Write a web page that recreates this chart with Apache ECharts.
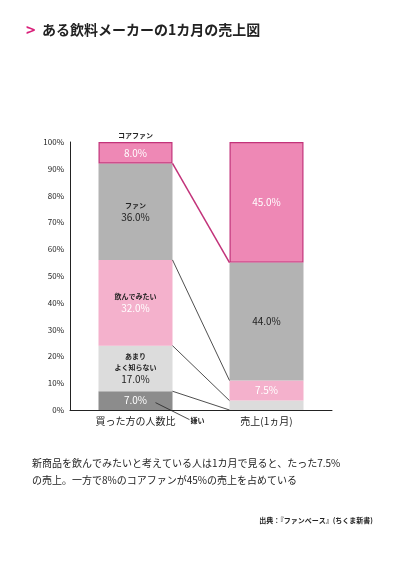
<!DOCTYPE html>
<html><head><meta charset="utf-8">
<script src="https://cdn.jsdelivr.net/npm/echarts@6/dist/echarts.min.js"></script>
<style>body{margin:0;background:#fff}#c{width:407px;height:566px}</style></head>
<body><div id="c"></div>
<script>
const categories = ['買った方の人数比', '売上(1ヵ月)'];
const dislike = [7.0, 0];
const unfamiliar = [17.0, 3.5];
const wantToTry = [32.0, 7.5];
const fan = [36.0, 44.0];
const coreFan = [8.0, 45.0];
const yTicks = [0, 10, 20, 30, 40, 50, 60, 70, 80, 90, 100];

const chart = echarts.init(document.getElementById('c'));
const F = '"Noto Sans CJK JP", sans-serif';
const BW = 74;
function lab(fmt, color, size){return {show:true, position:'inside', formatter:fmt, color:color, fontSize:size||10, fontFamily:F, lineHeight:13,
  rich:{s:{fontSize:7, color:'#222', fontWeight:'bold', fontFamily:F, lineHeight:11}}};}
function bar(name, vals, color, labels, extra){
  return Object.assign({type:'bar', name, stack:'a', barWidth:BW, itemStyle:{color},
    data: vals.map((v,i)=>({value:v, label: labels[i]}))}, extra||{});
}
chart.setOption({
  animation:false,
  grid:{left:70, right:75, top:142, bottom:156},
  xAxis:{type:'category', data:categories, axisTick:{show:false},
    axisLine:{lineStyle:{color:'#222', width:1}},
    axisLabel:{color:'#222', fontSize:10, fontFamily:F, margin:6}},
  yAxis:{type:'value', min:0, max:100, interval:10, splitLine:{show:false},
    axisLine:{show:true, lineStyle:{color:'#222'}}, axisTick:{show:false},
    axisLabel:{color:'#222', fontSize:8, fontFamily:F, formatter:v=>v+'%', margin:6}},
  series:[
    bar('嫌い', dislike, '#8c8c8c', [lab('7.0%','#fff',10), {show:false}]),
    bar('あまりよく知らない', unfamiliar, '#dcdcdc', [lab('{s|あまり}\n{s|よく知らない}\n17.0%','#222',10), {show:false}]),
    bar('飲んでみたい', wantToTry, '#f4b1cc', [lab('{s|飲んでみたい}\n32.0%','#fff',10), lab('7.5%','#fff',10)]),
    bar('ファン', fan, '#b3b3b3', [lab('{s|ファン}\n36.0%','#222',10), lab('44.0%','#222',10)]),
    bar('コアファン', coreFan, '#ee88b5', [lab('8.0%','#fff',10), lab('45.0%','#fff',10)],
      {itemStyle:{color:'#ee88b5', borderColor:'#c2337a', borderWidth:1.2}})
  ]
});
const p = (ci, v) => chart.convertToPixel({gridIndex:0}, [ci, v]);
function cum(arrs, i){return arrs.reduce((s,a)=>s+a[i],0);}
const extra = [];
const pairs = [
  [cum([dislike],0), 0, '#222', 0.8],
  [cum([dislike,unfamiliar],0), cum([dislike,unfamiliar],1), '#222', 0.8],
  [cum([dislike,unfamiliar,wantToTry],0), cum([dislike,unfamiliar,wantToTry],1), '#222', 0.8],
  [cum([dislike,unfamiliar,wantToTry,fan],0), cum([dislike,unfamiliar,wantToTry,fan],1), '#c2337a', 1.5]
];
pairs.forEach(([a,b,c,w])=>{
  const A = p(0,a), B = p(1,b);
  extra.push({type:'line', shape:{x1:A[0]+BW/2, y1:A[1], x2:B[0]-BW/2, y2:B[1]}, style:{stroke:c, lineWidth:w}, z:10});
});
const k = p(0, 2);
extra.push({type:'line', shape:{x1:k[0]+20, y1:k[1]-2, x2:k[0]+54, y2:k[1]+15}, style:{stroke:'#222', lineWidth:0.8}, z:10});
extra.push({type:'text', x:k[0]+55, y:k[1]+12, style:{text:'嫌い', fill:'#222', font:'bold 7px '+F}, z:10});
const t = p(0, 100);
extra.push({type:'text', x:t[0], y:t[1]-10, style:{text:'コアファン', fill:'#222', font:'bold 7px '+F, align:'center'}, z:10});
chart.setOption({graphic: [
  {type:'text', left:26, top:22, style:{text:'>', fill:'#d9207a', font:'bold 16px '+F}},
  {type:'text', left:42, top:23, style:{text:'ある飲料メーカーの1カ月の売上図', fill:'#222', font:'bold 14px '+F}},
  {type:'text', left:32, top:455, style:{text:'新商品を飲んでみたいと考えている人は1カ月で見ると、たった7.5%\nの売上。一方で8%のコアファンが45%の売上を占めている', fill:'#222', font:'10px '+F, lineHeight:17}},
  {type:'text', right:34, top:517, style:{text:'出典：『ファンベース』(ちくま新書)', fill:'#222', font:'bold 7px '+F}}
].concat(extra)});
</script></body></html>
